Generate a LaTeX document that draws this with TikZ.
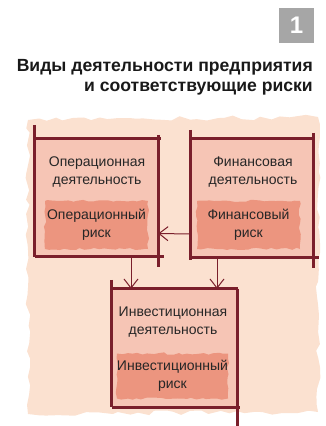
\documentclass[tikz,border=0pt]{standalone}
\usepackage{fontspec}
\setmainfont{Liberation Sans}
\usepackage{xcolor}
\usetikzlibrary{arrows.meta, positioning, decorations.pathmorphing}

\definecolor{framered}{HTML}{7A1F2B}
\definecolor{blobpeach}{HTML}{FBE1D0}
\definecolor{boxpink}{HTML}{F6C5B5}
\definecolor{riskred}{HTML}{EC957F}
\definecolor{badgegray}{HTML}{A6A6A6}

\begin{document}
\begin{tikzpicture}[
    x=1pt, y=-1pt,
    area/.style={rectangle, fill=boxpink, minimum width=123pt, minimum height=117pt, inner sep=0pt},
    act/.style={align=center, font=\fontsize{14}{17.5}\selectfont, text=black!85},
    risk/.style={rectangle, fill=riskred, minimum width=103pt, minimum height=48pt, align=center, inner sep=0pt,
        decorate, decoration={random steps, segment length=5pt, amplitude=1.2pt},
        font=\fontsize{14}{17.5}\selectfont, text=black!85},
    frame/.style={draw=framered, line width=3pt},
    arr/.style={-{Straight Barb[length=9pt, width=14pt]}, draw=framered, line width=1pt}
]
\useasboundingbox (0,0) rectangle (326,426);

% Badge and title
\node[fill=badgegray, minimum size=35pt, inner sep=0pt, text=white, font=\bfseries\fontsize{24}{24}\selectfont] (badge) at (296.5,25.5) {1};
\node[anchor=north east, align=right, inner sep=0pt, font=\bfseries\fontsize{17.6}{20.5}\selectfont, text=black!90] (title) at (313,59) {Виды деятельности предприятия\\и соответствующие риски};

% Background blob
\fill[blobpeach, decorate, decoration={random steps, segment length=9pt, amplitude=2.5pt}]
    (28,120) -- (318,117) -- (318,412) -- (28,414) -- cycle;

% Activity areas
\node[area] (op) at (96.5,197.5) {};
\node[area, minimum width=122pt, minimum height=118pt] (fin) at (252,198) {};
\node[area, minimum width=125pt, minimum height=118pt] (inv) at (174.5,348) {};

\node[act] (opact) at (97,172) {Операционная\\деятельность};
\node[risk] (oprisk) at (96.5,225) {Операционный\\риск};

\node[act] (finact) at (253,172) {Финансовая\\деятельность};
\node[risk] (finrisk) at (248.5,225) {Финансовый\\риск};

\node[act] (invact) at (173,322) {Инвестиционная\\деятельность};
\node[risk, minimum width=109pt, minimum height=45pt] (invrisk) at (172.5,376) {Инвестиционный\\риск};

% Sketchy frames
\draw[frame] ([yshift=14pt]op.north west) -- ([yshift=-1pt]op.south west);
\draw[frame] (op.north west) -- ([xshift=3pt]op.north east);
\draw[frame] ([yshift=4pt]op.north east) -- ([yshift=-11pt]op.south east);
\draw[frame] (op.south west) -- ([xshift=6pt]op.south east);

\draw[frame] ([yshift=9pt]fin.north west) -- ([yshift=-3pt]fin.south west);
\draw[frame] (fin.north west) -- ([xshift=2pt]fin.north east);
\draw[frame] ([yshift=6pt]fin.north east) -- ([yshift=-11pt]fin.south east);
\draw[frame] (fin.south west) -- ([xshift=6pt]fin.south east);

\draw[frame] ([yshift=9pt]inv.north west) -- (inv.south west);
\draw[frame] (inv.north west) -- ([xshift=1pt]inv.north east);
\draw[frame] (inv.north east) -- ([yshift=-19pt]inv.south east);
\draw[frame] (inv.south west) -- ([xshift=3pt]inv.south east);

% Arrows
\draw[arr] ([yshift=-36pt]fin.west) -- ([yshift=-36pt]op.east);
\draw[arr] ([xshift=34.5pt]op.south) -- ([xshift=34.5pt]op.south |- inv.north);
\draw[arr] ([xshift=-35pt]fin.south) -- ([xshift=-35pt]fin.south |- inv.north);
\end{tikzpicture}
\end{document}
